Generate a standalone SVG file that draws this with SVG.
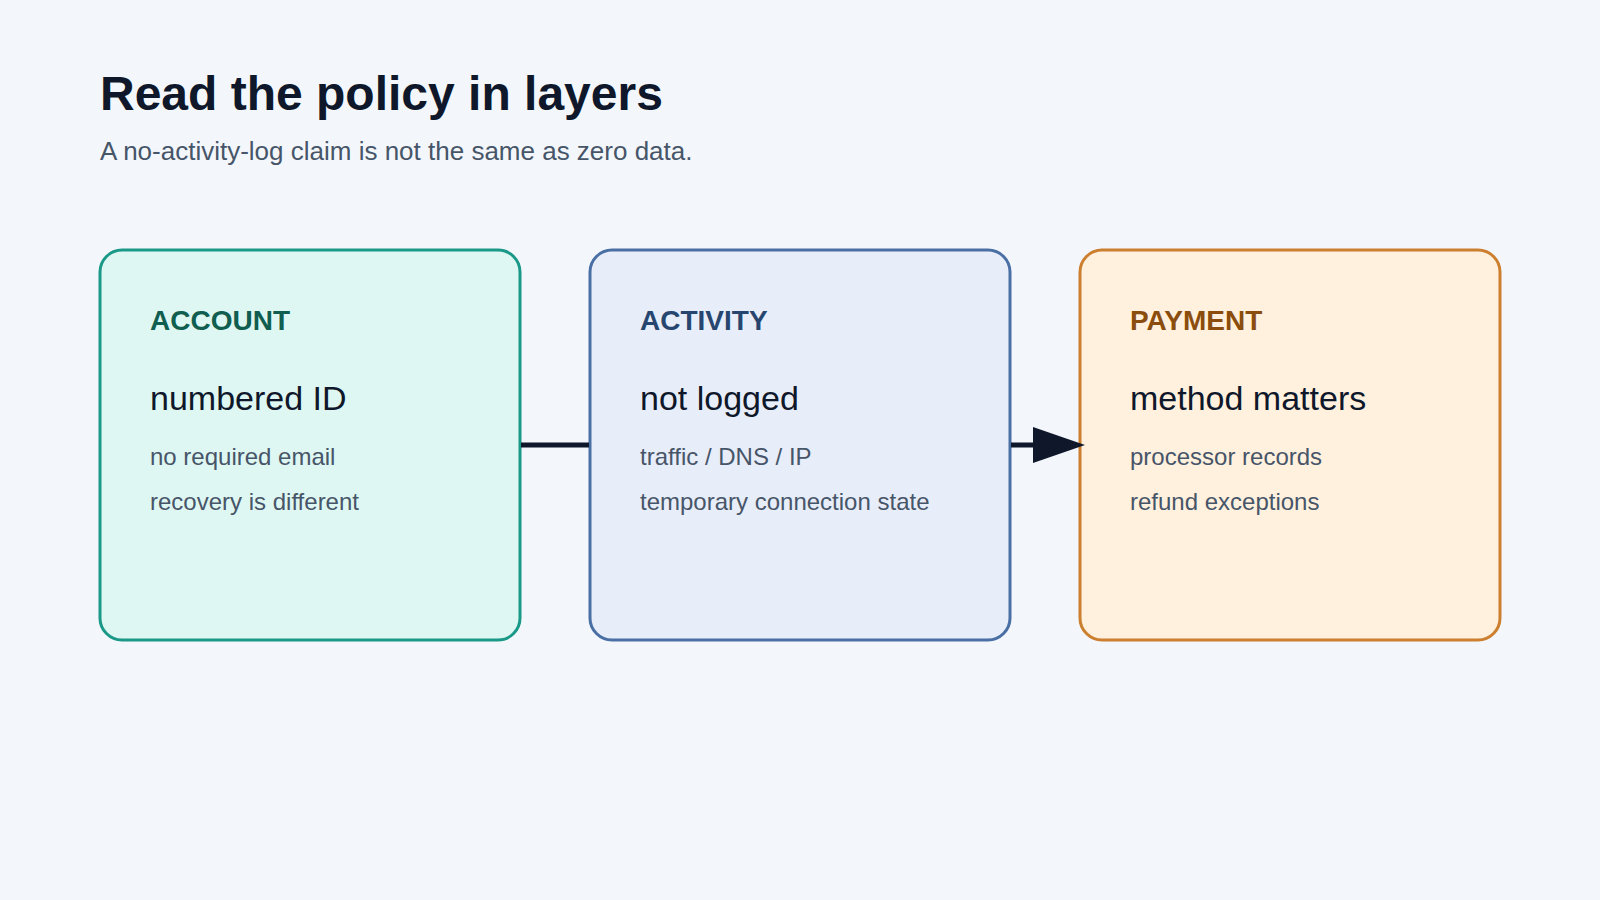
<svg xmlns="http://www.w3.org/2000/svg" width="1600" height="900" viewBox="0 0 1600 900">
<defs>
<style>
.title{font-family:"Liberation Sans",Arial,sans-serif;font-weight:700;font-size:48px;fill:#0f172a}
.sub{font-family:"Liberation Sans",Arial,sans-serif;font-size:26px;fill:#475569}
.box{stroke-width:3}
.lab{font-family:"Liberation Sans",Arial,sans-serif;font-weight:700;font-size:28px}
.head{font-family:"Liberation Sans",Arial,sans-serif;font-size:34px;fill:#0f172a}
.line{font-family:"Liberation Sans",Arial,sans-serif;font-size:24px;fill:#475569}
.conn{stroke:#0f172a;stroke-width:5;fill:none}
</style>
<marker id="arr" markerUnits="userSpaceOnUse" markerWidth="54" markerHeight="38" refX="27" refY="18" orient="auto">
<path d="M0,0 L52,18 L0,36 Z" fill="#0f172a"/>
</marker>
</defs>
<rect width="1600" height="900" fill="#f3f7fb"/>
<text class="title" x="100" y="110">Read the policy in layers</text>
<text class="sub" x="100" y="160">A no-activity-log claim is not the same as zero data.</text>
<g id="account">
<rect class="box" x="100" y="250" width="420" height="390" rx="22" fill="#dff7f2" stroke="#1a9988"/>
<text class="lab" x="150" y="330" fill="#0f5e4f">ACCOUNT</text>
<text class="head" x="150" y="410">numbered ID</text>
<text class="line" x="150" y="465">no required email</text>
<text class="line" x="150" y="510">recovery is different</text>
</g>
<g id="activity">
<rect class="box" x="590" y="250" width="420" height="390" rx="22" fill="#e8eef9" stroke="#4a6fa5"/>
<text class="lab" x="640" y="330" fill="#27466f">ACTIVITY</text>
<text class="head" x="640" y="410">not logged</text>
<text class="line" x="640" y="465">traffic / DNS / IP</text>
<text class="line" x="640" y="510">temporary connection state</text>
</g>
<g id="payment">
<rect class="box" x="1080" y="250" width="420" height="390" rx="22" fill="#fff1de" stroke="#cc7f2e"/>
<text class="lab" x="1130" y="330" fill="#8a4d0d">PAYMENT</text>
<text class="head" x="1130" y="410">method matters</text>
<text class="line" x="1130" y="465">processor records</text>
<text class="line" x="1130" y="510">refund exceptions</text>
</g>
<g id="connectors">
<line class="conn" x1="521" y1="445" x2="589" y2="445"/>
<line class="conn" x1="1011" y1="445" x2="1060" y2="445" marker-end="url(#arr)"/>
</g>
</svg>
